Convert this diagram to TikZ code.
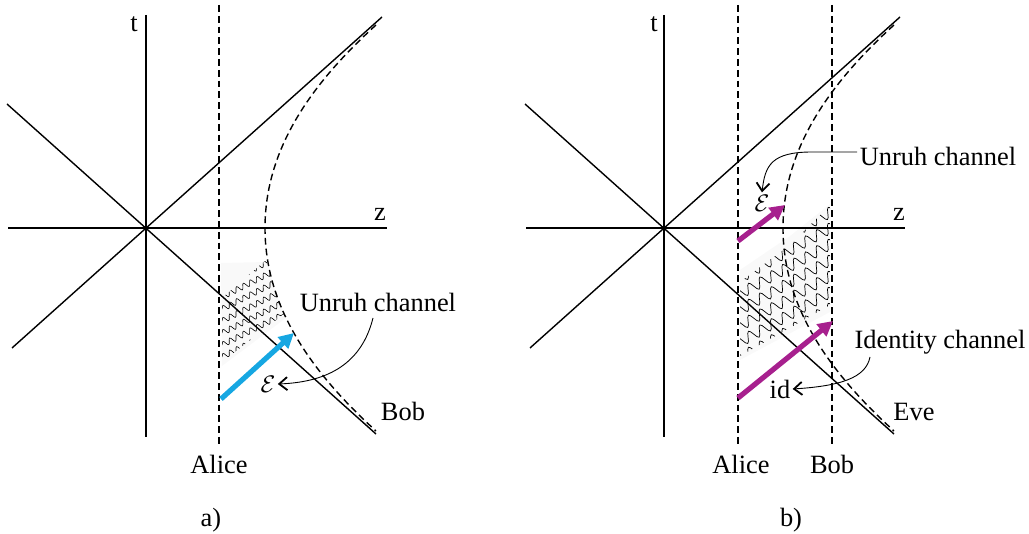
\documentclass[tikz,border=0pt]{standalone}
\usepackage{fontspec}
\setmainfont{Liberation Serif}
\usetikzlibrary{arrows.meta,decorations.pathmorphing}
\definecolor{cyanA}{RGB}{22,167,226}
\definecolor{magB}{RGB}{167,32,142}
\begin{document}
\begin{tikzpicture}[x=0.5pt,y=-0.5pt,
  font=\fontsize{13.2}{15}\selectfont,
  axisline/.style={line width=0.7pt},
  worldline/.style={line width=0.7pt, dash pattern=on 3.4pt off 2pt},
  wiga/.style={decorate, decoration={snake, amplitude=1.4pt, segment length=3.8pt}, line width=0.3pt},
  wigb/.style={decorate, decoration={snake, amplitude=2.6pt, segment length=6.5pt}, line width=0.35pt},
  shade/.style={fill=gray!5},
  lab/.style={inner sep=1pt},
  pointer/.style={line width=0.45pt, -{Straight Barb[length=4pt,width=6.5pt,line width=0.9pt]}},
  bigarrow/.style={line width=2.6pt, -{Triangle[length=7.5pt,width=7.5pt]}}]
\useasboundingbox (0,0) rectangle (1029,534);

% ================= panel a =================
\fill[shade] (221,263) -- (267,262) -- (275,290) -- (286,318) -- (222,366) -- cycle;
\begin{scope}
\clip (222,298) -- (266,260) -- (273,283) -- (284,314) -- (222,362) -- cycle;
\foreach \y in {285,297,...,362} {
  \draw[wiga] (222,\y) -- (284,\y-31);
}
\end{scope}

\draw[axisline] (146,15) -- (146,437);
\draw[axisline] (8,228) -- (387,228);
\draw[axisline] (12,348) -- (382,17);
\draw[axisline] (7,104) -- (376,434);
\draw[worldline] (219,5) -- (219,447);
\draw[worldline] (376,25) .. controls (310,85) and (265,150) .. (265,228)
                 .. controls (265,306) and (310,371) .. (376,431);

\coordinate (ba0) at (221,399);
\coordinate (ba1) at (294,333);
\draw[bigarrow, cyanA] (ba0) -- (ba1);

\node[lab] (ta) at (134,24) {t};
\node[lab] (za) at (380,214) {z};
\node[lab] (alicea) at (219,464) {Alice};
\node[lab] (boba) at (403,411) {Bob};
\node[lab] (capa) at (211,520) {a)};
\node[lab] (ua) at (378,302) {Unruh channel};
\node[lab] (ea) at (268,384) {$\mathcal{E}$};
\coordinate (uas) at (373,318);
\draw[pointer] (uas) .. controls (362,362) and (330,382) .. (ea.east);

% ================= panel b =================
\fill[shade] (740,270) -- (790,236) -- (830,204) -- (830,312) -- (740,360) -- cycle;
\begin{scope}
\clip (740,282) -- (790,245) -- (830,205) -- (830,305) -- (740,356) -- cycle;
\foreach \y in {232,248,...,400} {
  \draw[wigb] (736,\y) -- (836,\y-55);
}
\end{scope}

\draw[axisline] (664,15) -- (664,437);
\draw[axisline] (526,228) -- (905,228);
\draw[axisline] (530,348) -- (900,17);
\draw[axisline] (525,104) -- (894,434);
\draw[worldline] (738,5) -- (738,447);
\draw[worldline] (832,5) -- (832,447);
\draw[worldline] (894,25) .. controls (828,85) and (783,150) .. (783,228)
                 .. controls (783,306) and (828,371) .. (894,431);

\coordinate (mt0) at (738,241);
\coordinate (mt1) at (785,205);
\draw[bigarrow, magB] (mt0) -- (mt1);
\coordinate (mb0) at (738,398);
\coordinate (mb1) at (833,321);
\draw[bigarrow, magB] (mb0) -- (mb1);

\node[lab] (tb) at (654,24) {t};
\node[lab] (zb) at (899,214) {z};
\node[lab] (aliceb) at (741,464) {Alice};
\node[lab] (bobb) at (832,464) {Bob};
\node[lab] (eveb) at (914,412) {Eve};
\node[lab] (capb) at (791,520) {b)};
\node[lab] (ub) at (938,156) {Unruh channel};
\node[lab] (eb) at (762,203) {$\mathcal{E}$};
\node[lab] (ic) at (940,342) {Identity channel};
\node[lab] (idb) at (780,389) {id};
\coordinate (ubw) at (857,152);
\draw[pointer] (ubw) -- (812,152) .. controls (772,152) and (765,165) .. (eb.north);
\coordinate (ics) at (870,357);
\draw[pointer] (ics) .. controls (866,378) and (840,386) .. (idb.east);
\end{tikzpicture}
\end{document}
